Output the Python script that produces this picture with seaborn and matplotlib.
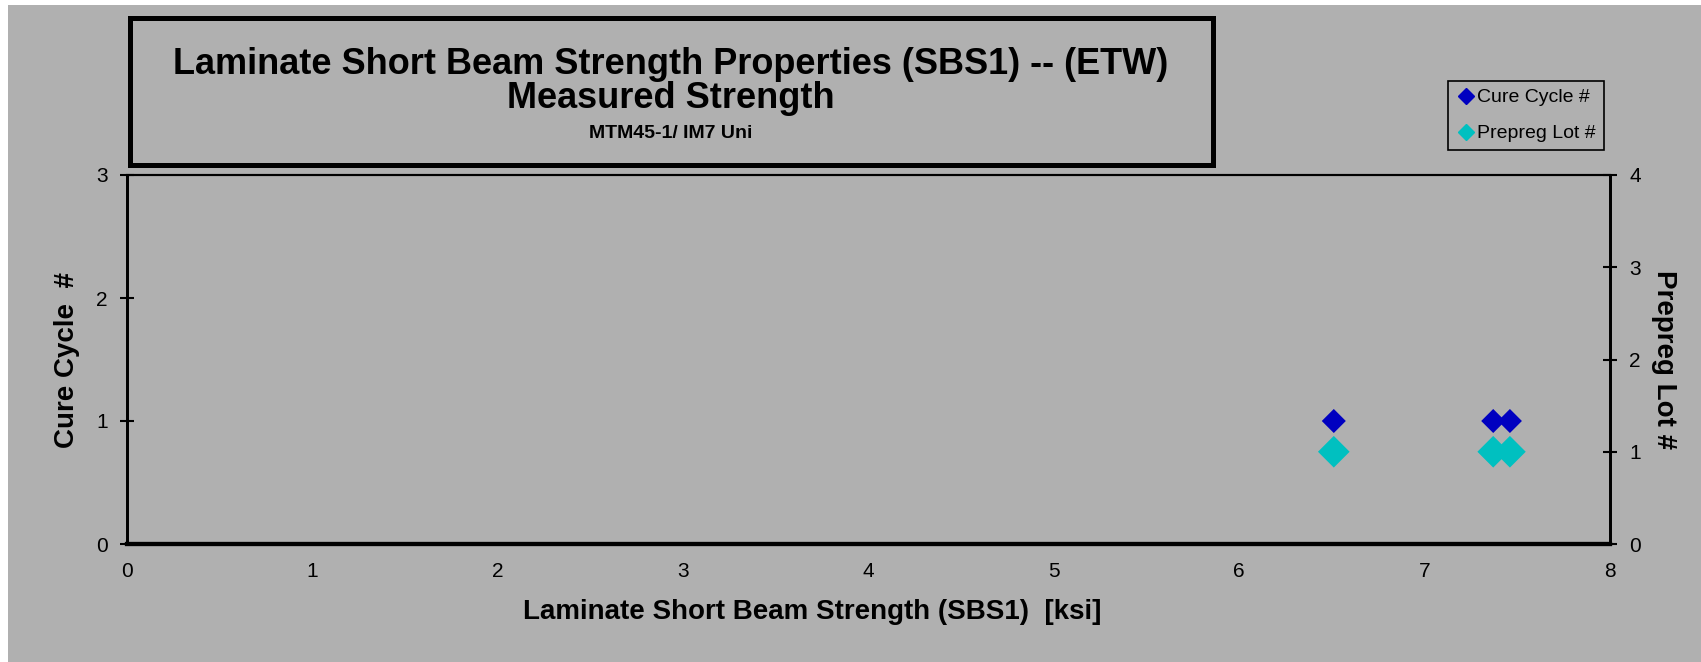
import matplotlib
matplotlib.use("Agg")
import matplotlib.pyplot as plt
from matplotlib.patches import Rectangle
from matplotlib.lines import Line2D
import seaborn as sns
import pandas as pd

# data
strength_ksi = [6.51, 7.37, 7.46]
cure_cycle = [1, 1, 1]
prepreg_lot = [1, 1, 1]

x_ticks = [0, 1, 2, 3, 4, 5, 6, 7, 8]
left_ticks = [0, 1, 2, 3]
right_ticks = [0, 1, 2, 3, 4]

title_lines = ["Laminate Short Beam Strength Properties (SBS1) -- (ETW)",
               "Measured Strength",
               "MTM45-1/ IM7 Uni"]

BG = "#B0B0B0"
BLUE = "#0000C0"
CYAN = "#00C0C0"

sns.set_theme(style="white")
plt.rcParams["font.family"] = ["Liberation Sans", "DejaVu Sans"]
for k in ("text.color", "axes.labelcolor", "xtick.color", "ytick.color"):
    plt.rcParams[k] = "black"

df = pd.DataFrame({"x": strength_ksi, "cure": cure_cycle, "lot": prepreg_lot})

W, H = 1701, 662
fig = plt.figure(figsize=(W / 100, H / 100), dpi=100)
fig.patch.set_facecolor("white")
fig.patches.append(Rectangle((8 / W, 0), 1 - 8 / W, 1 - 5 / H, transform=fig.transFigure,
                             facecolor=BG, edgecolor="none", zorder=-5))

ax = fig.add_axes([127 / W, 1 - 544 / H, (1610 - 127) / W, (544 - 175) / H])
ax.set_facecolor(BG)
ax2 = ax.twinx()

sns.scatterplot(data=df, x="x", y="cure", ax=ax, marker="D", s=150, color=BLUE,
                edgecolor="none", zorder=3)
sns.scatterplot(data=df, x="x", y="lot", ax=ax2, marker="D", s=260, color=CYAN,
                edgecolor="none", zorder=3)

ax.set_xlim(0, 8)
ax.set_ylim(0, 3)
ax2.set_ylim(0, 4)
ax.set_xticks(x_ticks)
ax.set_yticks(left_ticks)
ax2.set_yticks(right_ticks)

for a in (ax, ax2):
    a.tick_params(direction="inout", length=10, width=1.5, colors="black", labelsize=15)
    for s in a.spines.values():
        s.set_color("black")
    a.spines["top"].set_linewidth(1.5)
    a.spines["left"].set_linewidth(2)
    a.spines["right"].set_linewidth(2)
    a.spines["bottom"].set_linewidth(3)
ax.tick_params(axis="x", pad=8)
ax.tick_params(axis="y", pad=9)
ax2.tick_params(axis="y", pad=9)

ax.set_xlabel("Laminate Short Beam Strength (SBS1)  [ksi]", fontsize=20, fontweight="bold")
ax.xaxis.set_label_coords(0.462, -0.15)
ax.set_ylabel("Cure Cycle  #", fontsize=20, fontweight="bold")
ax.yaxis.set_label_coords(-0.032, 0.5)
ax2.set_ylabel("Prepreg Lot #", fontsize=20, fontweight="bold", rotation=270)
ax2.yaxis.set_label_coords(1.045, 0.5)

# title box
fig.patches.append(Rectangle((129.5 / W, 1 - 164.5 / H), (1212.5 - 129.5) / W, (164.5 - 18.5) / H,
                             transform=fig.transFigure, facecolor="none", edgecolor="black",
                             linewidth=3.6, zorder=5))
cx = 671 / W
fig.text(cx, 1 - 65 / H, title_lines[0], ha="center", va="center", fontsize=26, fontweight="bold")
fig.text(cx, 1 - 99 / H, title_lines[1], ha="center", va="center", fontsize=26, fontweight="bold")
fig.text(cx, 1 - 133 / H, title_lines[2], ha="center", va="center", fontsize=14, fontweight="bold")

handles = [Line2D([], [], marker="D", linestyle="none", color=BLUE, markersize=8),
           Line2D([], [], marker="D", linestyle="none", color=CYAN, markersize=8)]
leg = fig.legend(handles, ["Cure Cycle #", "Prepreg Lot #"], loc="upper left",
                 bbox_to_anchor=(1448 / W, 1 - 81 / H), borderaxespad=0, fontsize=14,
                 frameon=True, fancybox=False, edgecolor="black", facecolor=BG,
                 handletextpad=0.1, handlelength=1.0, borderpad=0.4, labelspacing=0.95)
leg.get_frame().set_linewidth(1.2)
leg.get_frame().set_alpha(1)

fig.savefig("out.png", dpi=100, facecolor=fig.get_facecolor())
